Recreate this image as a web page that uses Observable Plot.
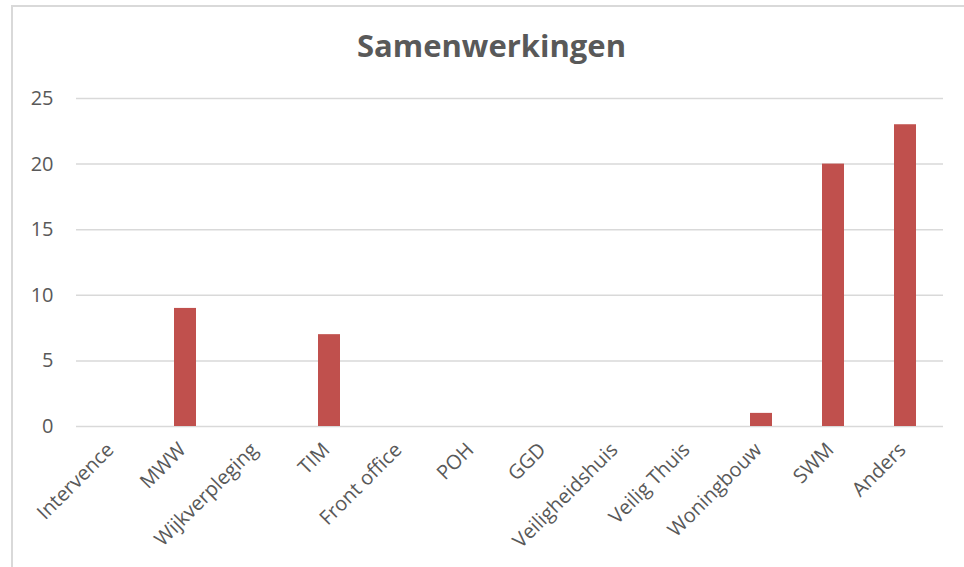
<!DOCTYPE html>
<html>
<head>
<meta charset="utf-8">
<script src="https://cdn.jsdelivr.net/npm/d3@7"></script>
<script src="https://cdn.jsdelivr.net/npm/@observablehq/plot@0.6"></script>
<style>
  html, body { margin: 0; padding: 0; background: #fff; }
  #wrap { position: relative; width: 964px; height: 567px; overflow: hidden; }
  #frame { position: absolute; left: 11px; top: 5px; width: 1000px; height: 700px; border: 2px solid #d9d9d9; box-sizing: border-box; }
  #title { position: absolute; left: 0; width: 983px; top: 30px; line-height: 31px; text-align: center; font-family: "Open Sans", sans-serif; font-weight: bold; font-size: 31px; color: #595959; }
  #chart { position: absolute; left: 0; top: 0; }
</style>
</head>
<body>
<div id="wrap">
  <div id="frame"></div>
  <div id="chart"></div>
  <div id="title">Samenwerkingen</div>
</div>
<script>
const categories = ["Intervence", "MWW", "Wijkverpleging", "TIM", "Front office", "POH", "GGD", "Veiligheidshuis", "Veilig Thuis", "Woningbouw", "SWM", "Anders"];
const values = [0, 9, 0, 7, 0, 0, 0, 0, 0, 1, 20, 23];
const yTicks = [0, 5, 10, 15, 20, 25];

const data = categories.map((c, i) => ({category: c, value: values[i]}));

const chart = Plot.plot({
  width: 964,
  height: 567,
  marginLeft: 76,
  marginRight: 21,
  marginTop: 98,
  marginBottom: 141,
  style: {fontFamily: "Open Sans, sans-serif", fontSize: "20px", color: "#595959", background: "transparent"},
  x: {domain: categories, paddingInner: 0.69, paddingOuter: 0.345, label: null},
  y: {domain: [0, 25], ticks: yTicks, label: null},
  marks: [
    Plot.gridY(yTicks, {stroke: "#d9d9d9", strokeOpacity: 1, strokeWidth: 1.5}),
    Plot.barY(data, {x: "category", y: "value", fill: "#C0504D"}),
    Plot.axisY(yTicks, {tickSize: 0, tickPadding: 23, fill: "#595959", fontSize: 20, label: null}),
    Plot.axisX({tickSize: 0, tickRotate: -45, tickPadding: 20, dx: -3, fill: "#595959", fontSize: 20, label: null})
  ]
});
document.getElementById("chart").appendChild(chart);
</script>
</body>
</html>
